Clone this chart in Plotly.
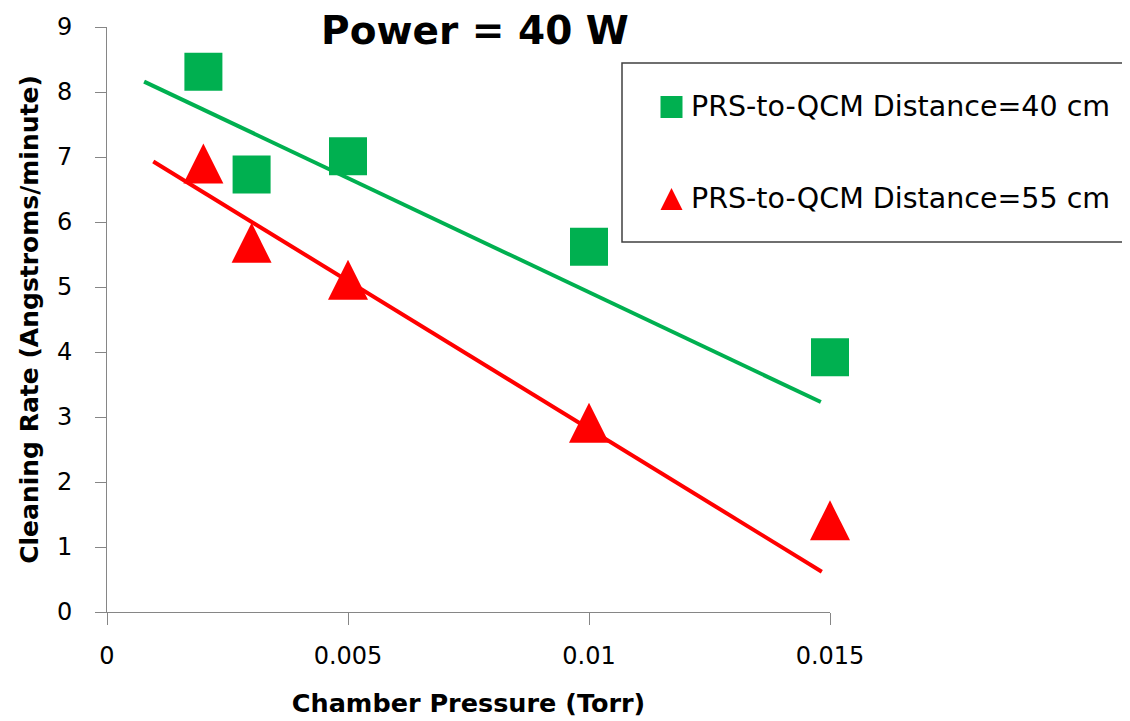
import plotly.graph_objects as go

# ---- data ----
pressure = [0.002, 0.003, 0.005, 0.010, 0.015]
rate_40cm = [8.31, 6.73, 7.01, 5.62, 3.92]
rate_55cm = [6.90, 5.68, 5.11, 2.91, 1.41]

# straight fit lines drawn in the original (start / end points)
fit_x_40 = [0.00077, 0.01481]
fit_y_40 = [8.16, 3.23]
fit_x_55 = [0.00096, 0.01483]
fit_y_55 = [6.93, 0.62]

series_names = ["PRS-to-QCM Distance=40 cm", "PRS-to-QCM Distance=55 cm"]
x_ticks = [0, 0.005, 0.01, 0.015]
x_tick_text = ["0", "0.005", "0.01", "0.015"]
y_ticks = list(range(0, 10))

GREEN = "#00B050"
RED = "#FF0000"
AXIS = "#868686"
FONT = "DejaVu Sans"

# ---- layout helpers (screen pixels -> layout coordinates) ----
OFF = 8                      # page body margin
PX0, PX1, PY0, PY1 = 107, 830, 27, 612   # plot area on screen


def px(sx):
    return (sx - PX0) / (PX1 - PX0)


def py(sy):
    return (PY1 - sy) / (PY1 - PY0)


fig = go.Figure()

fig.add_trace(go.Scatter(x=fit_x_40, y=fit_y_40, mode="lines",
                         line=dict(color=GREEN, width=4), showlegend=False, hoverinfo="skip"))
fig.add_trace(go.Scatter(x=fit_x_55, y=fit_y_55, mode="lines",
                         line=dict(color=RED, width=4), showlegend=False, hoverinfo="skip"))

fig.add_trace(go.Scatter(x=pressure, y=rate_40cm, mode="markers", name=series_names[0],
                         marker=dict(symbol="square", size=38, color=GREEN, line=dict(width=0)),
                         showlegend=False, cliponaxis=False))
fig.add_trace(go.Scatter(x=pressure, y=rate_55cm, mode="markers", name=series_names[1],
                         marker=dict(symbol="arrow-down", angle=180, standoff=20, size=40,
                                     color=RED, line=dict(width=0)),
                         showlegend=False, cliponaxis=False))

# ---- custom legend (overlay axes in plot-area fractions) ----
leg_y = [py(107), py(199)]
leg_mx = px(671.5)
fig.add_trace(go.Scatter(x=[leg_mx], y=[leg_y[0]], xaxis="x2", yaxis="y2", mode="markers",
                         marker=dict(symbol="square", size=22, color=GREEN),
                         showlegend=False, hoverinfo="skip", cliponaxis=False))
fig.add_trace(go.Scatter(x=[leg_mx], y=[leg_y[1]], xaxis="x2", yaxis="y2", mode="markers",
                         marker=dict(symbol="arrow-down", angle=180, standoff=11, size=22, color=RED),
                         showlegend=False, hoverinfo="skip", cliponaxis=False))

fig.add_shape(type="rect", xref="paper", yref="paper", x0=px(622), x1=px(1128), y0=py(242), y1=py(63),
              line=dict(color="#404040", width=1.5), fillcolor="rgba(0,0,0,0)")
for name, yy in zip(series_names, leg_y):
    fig.add_annotation(x=px(689), y=yy, xref="paper", yref="paper", text=name, showarrow=False,
                       xanchor="left", yanchor="middle", font=dict(family=FONT, size=28.5, color="#000"))

fig.update_layout(
    width=1130, height=721,
    margin=dict(l=PX0 - OFF, r=1130 - (PX1 - OFF), t=PY0 - OFF, b=721 - (PY1 - OFF)),
    paper_bgcolor="white", plot_bgcolor="white",
    font=dict(family=FONT, color="#000"),
    title=dict(text="<b>Power = 40 W</b>", x=(475 - OFF) / 1130, xanchor="center",
               y=1 - (30 - OFF) / 721, yanchor="middle", font=dict(family=FONT, size=39, color="#000")),
    xaxis=dict(range=[0, 0.015], tickvals=x_ticks, ticktext=x_tick_text, automargin=False,
               showgrid=False, zeroline=False, showline=True, linecolor=AXIS, linewidth=1,
               ticks="outside", ticklen=12, tickcolor=AXIS, tickwidth=1,
               tickfont=dict(family=FONT, size=24, color="#000"), ticklabelstandoff=10,
               title=dict(text="<b>Chamber Pressure (Torr)</b>", font=dict(family=FONT, size=25.5, color="#000"),
                          standoff=25)),
    yaxis=dict(range=[0, 9], tickvals=y_ticks, automargin=False,
               showgrid=False, zeroline=False, showline=True, linecolor=AXIS, linewidth=1,
               ticks="outside", ticklen=11, tickcolor=AXIS, tickwidth=1,
               tickfont=dict(family=FONT, size=24, color="#000"), ticklabelstandoff=18,
               title=dict(text="<b>Cleaning Rate (Angstroms/minute)</b>",
                          font=dict(family=FONT, size=25, color="#000"), standoff=11)),
    xaxis2=dict(range=[0, 1], overlaying="x", visible=False, fixedrange=True),
    yaxis2=dict(range=[0, 1], overlaying="y", visible=False, fixedrange=True),
)

fig.write_html("out.html")
